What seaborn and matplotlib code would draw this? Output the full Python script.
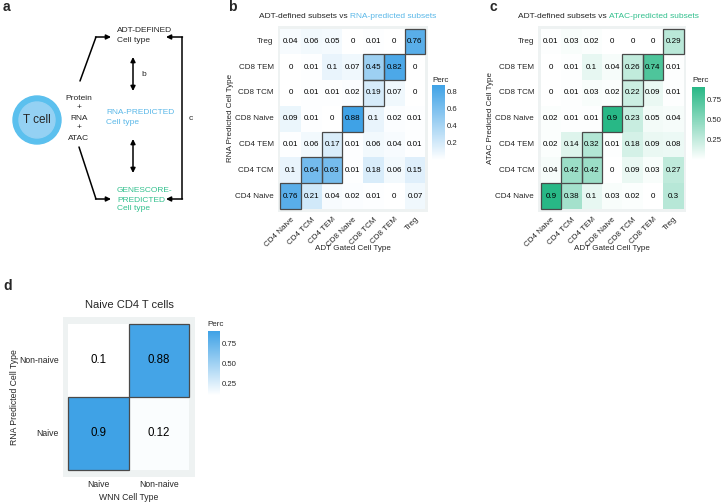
import numpy as np
import pandas as pd
import matplotlib
matplotlib.use("Agg")
import matplotlib.pyplot as plt
import seaborn as sns
from matplotlib.colors import LinearSegmentedColormap
from matplotlib.patches import Rectangle, Circle

# ---- data ----
adt_types = ["CD4 Naive", "CD4 TCM", "CD4 TEM", "CD8 Naive", "CD8 TCM", "CD8 TEM", "Treg"]
pred_types = ["Treg", "CD8 TEM", "CD8 TCM", "CD8 Naive", "CD4 TEM", "CD4 TCM", "CD4 Naive"]

rna_perc = [
    [0.04, 0.06, 0.05, 0, 0.01, 0, 0.76],
    [0, 0.01, 0.1, 0.07, 0.45, 0.82, 0],
    [0, 0.01, 0.01, 0.02, 0.19, 0.07, 0],
    [0.09, 0.01, 0, 0.88, 0.1, 0.02, 0.01],
    [0.01, 0.06, 0.17, 0.01, 0.06, 0.04, 0.01],
    [0.1, 0.64, 0.63, 0.01, 0.18, 0.06, 0.15],
    [0.76, 0.21, 0.04, 0.02, 0.01, 0, 0.07],
]
atac_perc = [
    [0.01, 0.03, 0.02, 0, 0, 0, 0.29],
    [0, 0.01, 0.1, 0.04, 0.26, 0.74, 0.01],
    [0, 0.01, 0.03, 0.02, 0.22, 0.09, 0.01],
    [0.02, 0.01, 0.01, 0.9, 0.23, 0.05, 0.04],
    [0.02, 0.14, 0.32, 0.01, 0.18, 0.09, 0.08],
    [0.04, 0.42, 0.42, 0, 0.09, 0.03, 0.27],
    [0.9, 0.38, 0.1, 0.03, 0.02, 0, 0.3],
]
# (predicted row, adt column) cells with a frame
boxed_cells = [("CD4 Naive", "CD4 Naive"), ("CD4 TCM", "CD4 TCM"), ("CD4 TCM", "CD4 TEM"),
               ("CD4 TEM", "CD4 TEM"), ("CD8 Naive", "CD8 Naive"), ("CD8 TCM", "CD8 TCM"),
               ("CD8 TEM", "CD8 TCM"), ("CD8 TEM", "CD8 TEM"), ("Treg", "Treg")]

wnn_types = ["Naive", "Non-naive"]
naive_rows = ["Non-naive", "Naive"]
naive_perc = [[0.1, 0.88], [0.9, 0.12]]
naive_boxed = [("Non-naive", "Non-naive"), ("Naive", "Naive")]

# ---- style ----
sns.set_style("white")
plt.rcParams['font.family'] = ['Liberation Sans', 'DejaVu Sans']

W, H = 722, 503
BLUE = "#5BB8E8"
GREEN = "#33C08E"
BG = "#EEF2F2"
blue_cmap = LinearSegmentedColormap.from_list("perc_blue", ["#FFFFFF", "#3FA2E6"])
green_cmap = LinearSegmentedColormap.from_list("perc_green", ["#FFFFFF", "#28B886"])
FS = 5.8


def px_box(l, t, r, b):
    return [l / W, 1 - b / H, (r - l) / W, (b - t) / H]


def ftext(x, y, s, **kw):
    return fig.text(x / W, 1 - y / H, s, **kw)


def heat(ax, cax, df, cmap, boxed, ticks, ticklabels, fs, pad_x, pad_y, tfs):
    sns.heatmap(df, ax=ax, cmap=cmap, annot=True, fmt="g", cbar_ax=cax,
                xticklabels=True, yticklabels=True,
                annot_kws={"size": fs, "color": "black"}, cbar_kws={"ticks": ticks})
    ax.set_facecolor(BG)
    nr, nc = df.shape
    ax.set_xlim(-pad_x, nc + pad_x)
    ax.set_ylim(nr + pad_y, -pad_y)
    rows = list(df.index)
    cols = list(df.columns)
    for r, c in boxed:
        ax.add_patch(Rectangle((cols.index(c), rows.index(r)), 1, 1, fill=False,
                               ec="#4a4a4a", lw=0.9))
    ax.set_xlabel("")
    ax.set_ylabel("")
    ax.tick_params(axis="both", length=2, width=0.5, color="#333333", labelsize=tfs, pad=1)
    plt.setp(ax.get_yticklabels(), rotation=0)
    cb = ax.collections[0].colorbar
    cb.outline.set_visible(False)
    cb.set_ticklabels(ticklabels)
    cb.ax.tick_params(labelsize=5.6, length=2.5, width=0.6, color="white", direction="in", pad=1.5)


fig = plt.figure(figsize=(W / 100, H / 100), dpi=100)

# ---- panel a: schematic ----
ax_a = fig.add_axes(px_box(0, 0, 215, 290))
ax_a.set_xlim(0, 215)
ax_a.set_ylim(290, 0)
ax_a.axis("off")
ax_a.add_patch(Circle((37, 120), 24, color="#5BC0EE"))
ax_a.add_patch(Circle((37, 120), 18, color="#94D1F3"))
ax_a.text(37, 120, "T cell", ha="center", va="center", fontsize=8.5)
for s, y in zip(["Protein", "+", "RNA", "+", "ATAC"], [99, 108, 118, 128, 138]):
    ax_a.text(79, y, s, ha="center", va="center", fontsize=6)
for s, y in zip(["ADT-DEFINED", "Cell type"], [30, 40]):
    ax_a.text(117, y, s, ha="left", va="center", fontsize=6)
for s, y in zip(["RNA-PREDICTED", "Cell type"], [112, 122]):
    ax_a.text(106, y, s, ha="left", va="center", fontsize=6, color=BLUE)
for s, y in zip(["GENESCORE-", "PREDICTED", "Cell type"], [190, 200, 209]):
    ax_a.text(117, y, s, ha="left", va="center", fontsize=6, color=GREEN)

arr = dict(arrowstyle="-|>", color="black", lw=1.1, mutation_scale=7, shrinkA=0, shrinkB=0)
darr = dict(arrowstyle="<|-|>", color="black", lw=1.1, mutation_scale=7, shrinkA=0, shrinkB=0)
ax_a.plot([80, 96], [81, 37], color="black", lw=1.1, solid_capstyle="round")
ax_a.plot([79, 96], [147, 199], color="black", lw=1.1, solid_capstyle="round")
ax_a.annotate("", xy=(111, 37), xytext=(95.5, 37), arrowprops=arr)
ax_a.annotate("", xy=(111, 199), xytext=(95.5, 199), arrowprops=arr)
ax_a.annotate("", xy=(133, 57), xytext=(133, 91), arrowprops=darr)
ax_a.annotate("", xy=(133, 139), xytext=(133, 173), arrowprops=darr)
ax_a.text(144, 75, "b", ha="center", va="center", fontsize=6)
ax_a.plot([182, 182], [37, 199], color="black", lw=1.1)
ax_a.annotate("", xy=(166, 37), xytext=(182.5, 37), arrowprops=arr)
ax_a.annotate("", xy=(166, 199), xytext=(182.5, 199), arrowprops=arr)
ax_a.text(191, 118, "c", ha="center", va="center", fontsize=6)

# ---- panel b ----
rna_df = pd.DataFrame(rna_perc, index=pred_types, columns=adt_types)
ax_b = fig.add_axes(px_box(277.7, 25.7, 427.8, 211.8))
cax_b = fig.add_axes(px_box(432, 85, 445, 160))
heat(ax_b, cax_b, rna_df, blue_cmap, boxed_cells, [0.2, 0.4, 0.6, 0.8],
     ["0.2", "0.4", "0.6", "0.8"], FS, 0.12, 0.11, FS)
plt.setp(ax_b.get_xticklabels(), rotation=45, ha="right", rotation_mode="anchor")
ftext(432, 80, "Perc", fontsize=FS, va="center")
ftext(231, 118, "RNA Predicted Cell Type", rotation=90, ha="center", va="center", fontsize=FS)
ftext(353, 249, "ADT Gated Cell Type", ha="center", va="center", fontsize=FS)
t1 = ftext(259, 16, "ADT-defined subsets vs ", fontsize=6.0, va="center")
ax_b.annotate("RNA-predicted subsets", xy=(1, 0), xycoords=t1, va="bottom",
              fontsize=6.0, color=BLUE)

# ---- panel c ----
atac_df = pd.DataFrame(atac_perc, index=pred_types, columns=adt_types)
ax_c = fig.add_axes(px_box(538.3, 25.7, 686.0, 211.8))
cax_c = fig.add_axes(px_box(692, 87, 705, 160))
heat(ax_c, cax_c, atac_df, green_cmap, boxed_cells, [0.25, 0.5, 0.75],
     ["0.25", "0.50", "0.75"], FS, 0.12, 0.11, FS)
plt.setp(ax_c.get_xticklabels(), rotation=45, ha="right", rotation_mode="anchor")
ftext(692, 80, "Perc", fontsize=FS, va="center")
ftext(491, 118, "ATAC Predicted Cell Type", rotation=90, ha="center", va="center", fontsize=FS)
ftext(612, 248, "ADT Gated Cell Type", ha="center", va="center", fontsize=FS)
t2 = ftext(518, 16, "ADT-defined subsets vs ", fontsize=6.0, va="center")
ax_c.annotate("ATAC-predicted subsets", xy=(1, 0), xycoords=t2, va="bottom",
              fontsize=6.0, color=GREEN)

# ---- panel d ----
naive_df = pd.DataFrame(naive_perc, index=naive_rows, columns=wnn_types)
ax_d = fig.add_axes(px_box(62.7, 316.7, 195.0, 477.0))
cax_d = fig.add_axes(px_box(208, 331, 220, 395))
heat(ax_d, cax_d, naive_df, blue_cmap, naive_boxed, [0.25, 0.5, 0.75],
     ["0.25", "0.50", "0.75"], 8.3, 0.093, 0.1, 6.2)
ax_d.tick_params(axis="x", length=0, pad=2)
ftext(207, 324, "Perc", fontsize=FS, va="center")
ftext(129, 305, "Naive CD4 T cells", ha="center", va="center", fontsize=8)
ftext(15, 397, "RNA Predicted Cell Type", rotation=90, ha="center", va="center", fontsize=6.2)
ftext(129, 498, "WNN Cell Type", ha="center", va="center", fontsize=6.2)

# ---- panel letters ----
for s, x, y in [("a", 3, 7), ("b", 228, 7), ("c", 490, 7), ("d", 3, 286)]:
    ftext(x, y, s, fontsize=10, fontweight="bold", va="center")

fig.savefig("out.png", dpi=100)
